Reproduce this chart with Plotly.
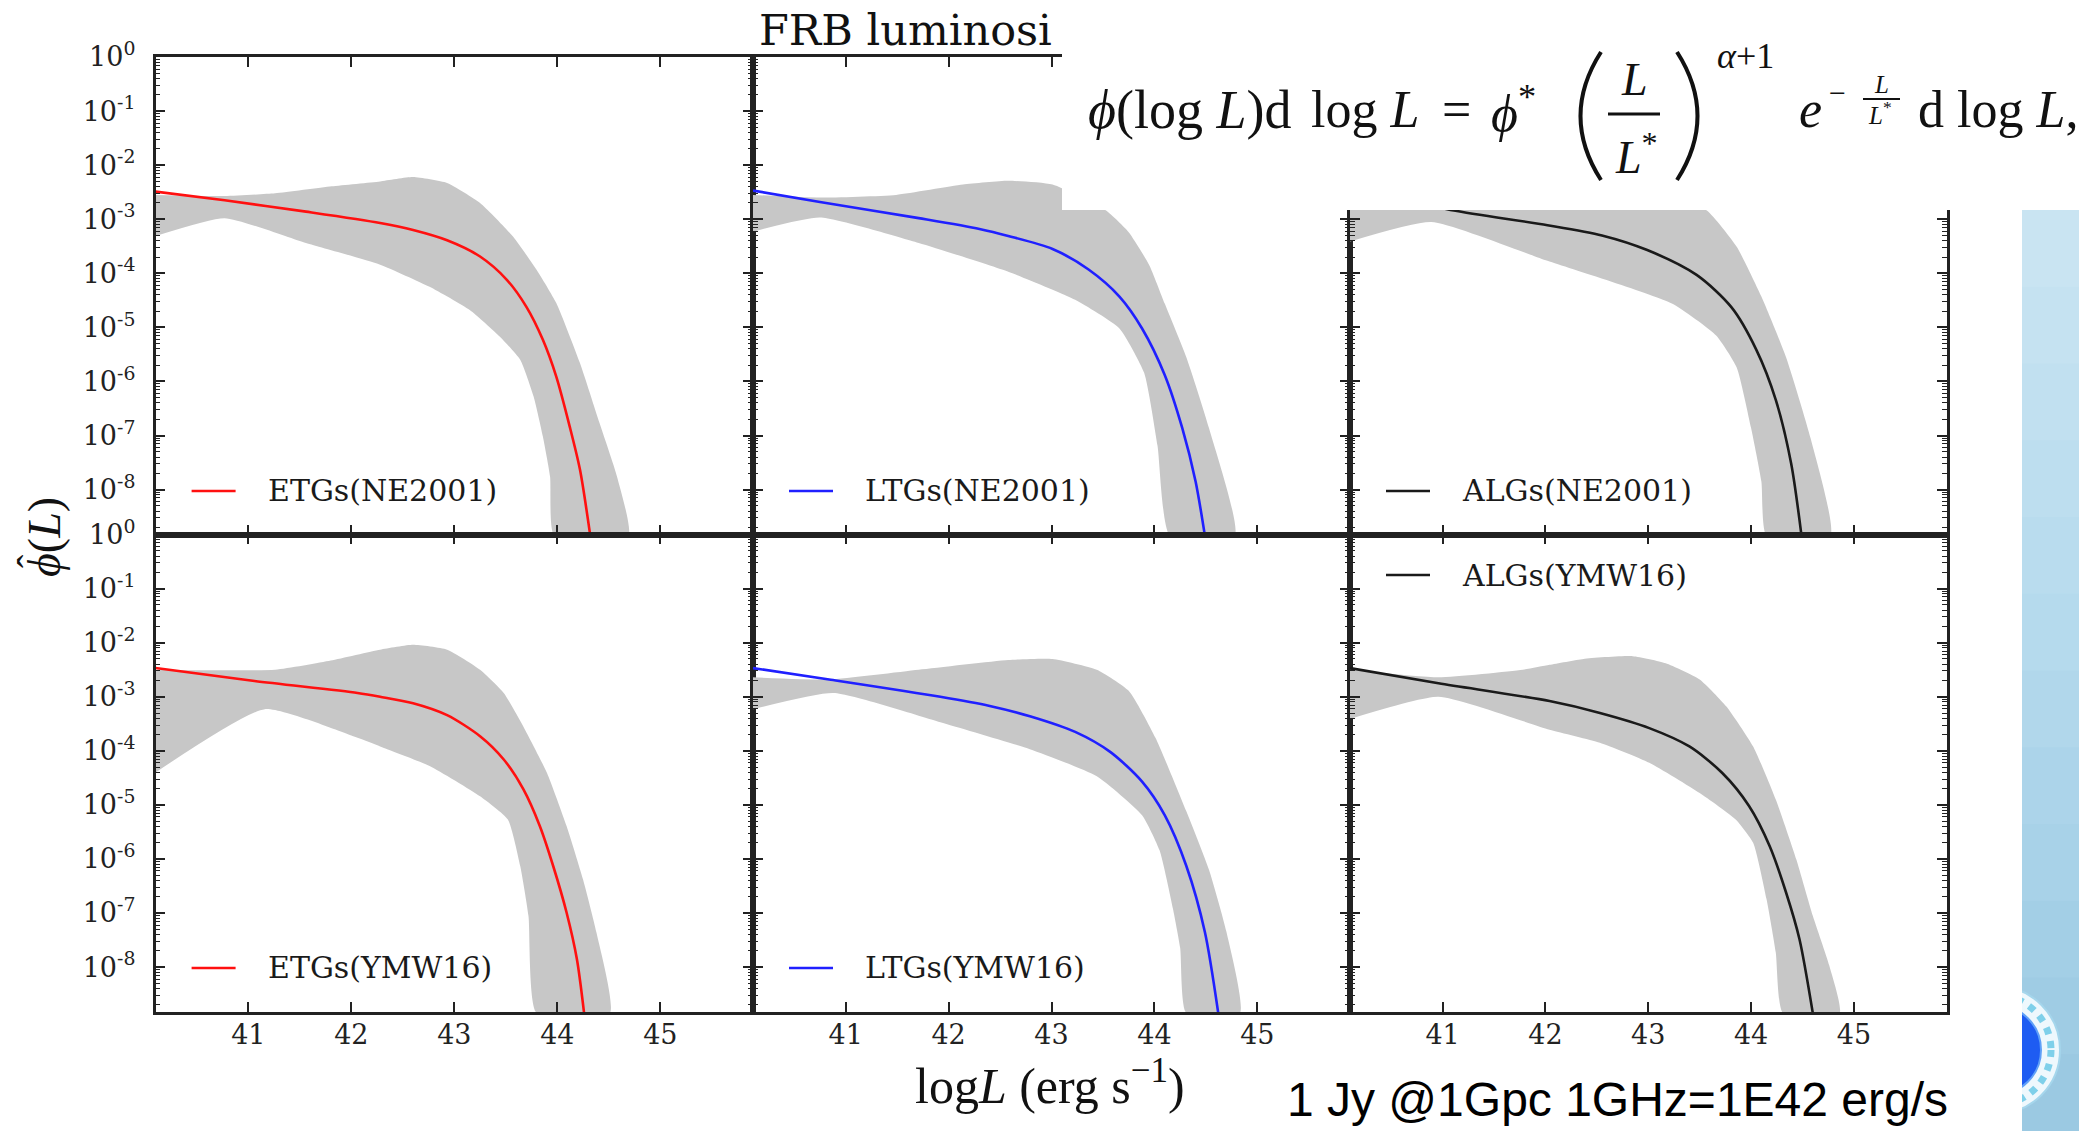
import plotly.graph_objects as go

W, H = 2079, 1131

# ---------------- data (log10 L, log10 phi) ----------------
# Panel 1: ETGs(NE2001)
etg_ne_line_x = [40.1, 40.77, 41.56, 42.28, 42.6, 42.93, 43.25, 43.51, 43.7, 43.86, 43.99, 44.12, 44.22, 44.32]
etg_ne_line_y = [-2.49, -2.65, -2.86, -3.07, -3.2, -3.39, -3.69, -4.12, -4.62, -5.23, -5.91, -6.83, -7.63, -8.85]
etg_ne_up_x = [40.1, 40.77, 41.26, 41.81, 42.28, 42.6, 42.93, 43.25, 43.57, 43.8, 43.99, 44.22, 44.41, 44.58, 44.69]
etg_ne_up_y = [-2.55, -2.57, -2.52, -2.39, -2.3, -2.22, -2.33, -2.7, -3.32, -3.94, -4.55, -5.66, -6.77, -7.76, -8.85]
etg_ne_lo_x = [40.1, 40.77, 41.56, 42.28, 42.76, 43.15, 43.44, 43.64, 43.77, 43.86, 43.93, 43.97]
etg_ne_lo_y = [-3.31, -2.98, -3.44, -3.84, -4.25, -4.68, -5.17, -5.6, -6.28, -7.02, -7.76, -8.85]

# Panel 2: LTGs(NE2001)
ltg_ne_line_x = [40.1, 40.75, 41.71, 42.3, 42.58, 43.01, 43.36, 43.66, 43.88, 44.1, 44.27, 44.4, 44.49]
ltg_ne_line_y = [-2.47, -2.68, -2.98, -3.18, -3.31, -3.55, -3.93, -4.43, -5.02, -5.88, -6.86, -7.85, -8.85]
ltg_ne_up_x = [40.1, 40.75, 41.49, 42.14, 42.58, 43.01, 43.53, 43.75, 43.95, 44.1, 44.31, 44.53, 44.78]
ltg_ne_up_y = [-2.55, -2.6, -2.55, -2.36, -2.29, -2.36, -2.84, -3.24, -3.85, -4.56, -5.55, -6.86, -8.85]
ltg_ne_lo_x = [40.1, 40.75, 41.71, 42.58, 43.23, 43.66, 43.9, 44.03, 44.15]
ltg_ne_lo_y = [-3.23, -2.97, -3.44, -3.97, -4.49, -5.02, -5.84, -7.19, -8.85]

# Panel 3: ALGs(NE2001)
alg_ne_line_x = [40.1, 40.75, 41.11, 42.02, 42.55, 42.99, 43.47, 43.81, 44.05, 44.24, 44.39, 44.49]
alg_ne_line_y = [-2.49, -2.68, -2.84, -3.11, -3.3, -3.57, -4.03, -4.63, -5.41, -6.34, -7.52, -8.85]
alg_ne_up_x = [40.1, 40.77, 41.3, 41.8, 42.35, 42.65, 42.9, 43.2, 43.57, 43.86, 44.1, 44.34, 44.58, 44.77]
alg_ne_up_y = [-2.55, -2.57, -2.52, -2.39, -2.26, -2.22, -2.3, -2.55, -2.84, -3.51, -4.43, -5.55, -7.06, -8.85]
alg_ne_lo_x = [40.1, 40.89, 42.02, 43.23, 43.66, 43.86, 44.0, 44.1, 44.15]
alg_ne_lo_y = [-3.41, -3.05, -3.77, -4.56, -5.15, -5.74, -6.86, -7.85, -8.85]

# Panel 4: ETGs(YMW16)
etg_ym_line_x = [40.1, 41.06, 42.06, 42.28, 42.6, 42.93, 43.25, 43.48, 43.67, 43.83, 43.96, 44.09, 44.19, 44.26]
etg_ym_line_y = [-2.47, -2.71, -2.93, -3.0, -3.12, -3.34, -3.73, -4.16, -4.71, -5.39, -6.13, -6.99, -7.85, -8.85]
etg_ym_up_x = [40.1, 41.26, 41.8, 42.28, 42.6, 42.93, 43.25, 43.48, 43.67, 43.9, 44.09, 44.25, 44.38, 44.51]
etg_ym_up_y = [-2.5, -2.5, -2.33, -2.13, -2.04, -2.13, -2.5, -2.93, -3.55, -4.41, -5.39, -6.38, -7.36, -8.85]
etg_ym_lo_x = [40.1, 41.16, 42.06, 42.28, 42.76, 43.25, 43.52, 43.64, 43.72, 43.8]
etg_ym_lo_y = [-4.4, -3.23, -3.76, -3.92, -4.28, -4.84, -5.27, -6.13, -7.05, -8.85]

# Panel 5: LTGs(YMW16)
ltg_ym_line_x = [40.1, 40.84, 41.92, 42.4, 42.79, 43.23, 43.57, 43.88, 44.1, 44.31, 44.49, 44.62]
ltg_ym_line_y = [-2.47, -2.68, -3.0, -3.17, -3.36, -3.65, -4.02, -4.57, -5.19, -6.13, -7.35, -8.85]
ltg_ym_up_x = [40.1, 40.84, 41.71, 42.58, 43.01, 43.44, 43.75, 44.01, 44.31, 44.53, 44.7, 44.83]
ltg_ym_up_y = [-2.64, -2.68, -2.5, -2.32, -2.3, -2.5, -2.89, -3.76, -5.12, -6.2, -7.35, -8.85]
ltg_ym_lo_x = [40.1, 40.88, 41.92, 42.79, 43.44, 43.88, 44.05, 44.18, 44.25, 44.31]
ltg_ym_lo_y = [-3.23, -2.93, -3.47, -3.97, -4.47, -5.19, -5.84, -6.92, -7.64, -8.85]

# Panel 6: ALGs(YMW16)
alg_ym_line_x = [40.1, 40.96, 42.04, 42.53, 43.01, 43.4, 43.72, 43.98, 44.18, 44.34, 44.47, 44.6]
alg_ym_line_y = [-2.47, -2.75, -3.08, -3.3, -3.58, -3.92, -4.41, -5.02, -5.76, -6.62, -7.48, -8.85]
alg_ym_up_x = [40.1, 40.96, 41.78, 42.04, 42.37, 42.85, 43.17, 43.5, 43.76, 44.02, 44.24, 44.44, 44.6, 44.76, 44.86]
alg_ym_up_y = [-2.5, -2.64, -2.5, -2.41, -2.3, -2.25, -2.38, -2.68, -3.18, -3.92, -4.9, -6.01, -7.05, -7.97, -8.85]
alg_ym_lo_x = [40.1, 40.96, 42.04, 42.53, 43.01, 43.5, 43.85, 44.02, 44.15, 44.24, 44.31]
alg_ym_lo_y = [-3.41, -3.0, -3.61, -3.85, -4.22, -4.78, -5.27, -5.7, -6.74, -7.73, -8.85]

panel_labels = ["ETGs(NE2001)", "LTGs(NE2001)", "ALGs(NE2001)",
                "ETGs(YMW16)", "LTGs(YMW16)", "ALGs(YMW16)"]
line_colors = ["#ff1010", "#2020ff", "#1a1a1a", "#ff1010", "#2020ff", "#1a1a1a"]
x_ticks = [41, 42, 43, 44, 45]
y_tick_exps = [0, -1, -2, -3, -4, -5, -6, -7, -8]

panels = [
    (etg_ne_line_x, etg_ne_line_y, etg_ne_up_x, etg_ne_up_y, etg_ne_lo_x, etg_ne_lo_y),
    (ltg_ne_line_x, ltg_ne_line_y, ltg_ne_up_x, ltg_ne_up_y, ltg_ne_lo_x, ltg_ne_lo_y),
    (alg_ne_line_x, alg_ne_line_y, alg_ne_up_x, alg_ne_up_y, alg_ne_lo_x, alg_ne_lo_y),
    (etg_ym_line_x, etg_ym_line_y, etg_ym_up_x, etg_ym_up_y, etg_ym_lo_x, etg_ym_lo_y),
    (ltg_ym_line_x, ltg_ym_line_y, ltg_ym_up_x, ltg_ym_up_y, ltg_ym_lo_x, ltg_ym_lo_y),
    (alg_ym_line_x, alg_ym_line_y, alg_ym_up_x, alg_ym_up_y, alg_ym_lo_x, alg_ym_lo_y),
]

# ---------------- layout geometry (pixels) ----------------
COL_L = [155.6, 753.0, 1350.0]
COL_R = [753.0, 1350.0, 1946.5]
ROW_T = [57.0, 534.5]
ROW_B = [534.5, 1012.0]

def px(x):
    return x / W

def py(y):
    return 1 - y / H

SERIF = "DejaVu Serif"
TEX = "Liberation Serif"

fig = go.Figure()
layout = dict(
    width=W, height=H, margin=dict(l=0, r=0, t=0, b=0),
    paper_bgcolor="white", plot_bgcolor="rgba(0,0,0,0)", showlegend=False,
)

minor_vals = [m * 10.0 ** (-k) for k in range(1, 10) for m in range(2, 10)]

for i, (lx, ly, ux, uy, ox, oy) in enumerate(panels):
    n = i + 1
    row, col = i // 3, i % 3
    xa = "x" if n == 1 else f"x{n}"
    ya = "y" if n == 1 else f"y{n}"
    band_x = list(ux) + list(ox)[::-1]
    band_y = [10 ** v for v in list(uy) + list(oy)[::-1]]
    fig.add_trace(go.Scatter(x=band_x, y=band_y, xaxis=xa, yaxis=ya, mode="lines",
                             fill="toself", fillcolor="#c7c7c7",
                             line=dict(width=0, color="#c7c7c7", shape="spline", smoothing=0.5),
                             hoverinfo="skip"))
    fig.add_trace(go.Scatter(x=lx, y=[10 ** v for v in ly], xaxis=xa, yaxis=ya, mode="lines",
                             line=dict(color=line_colors[i], width=2.6, shape="spline", smoothing=0.8),
                             name=panel_labels[i]))
    key = "" if n == 1 else str(n)
    layout["xaxis" + key] = dict(
        domain=[px(COL_L[col]), px(COL_R[col])], anchor=ya, range=[40.1, 45.9],
        tickmode="array", tickvals=x_ticks, ticktext=[str(t) for t in x_ticks],
        ticks="inside", ticklen=10, tickwidth=1.6, tickcolor="#222",
        showline=True, linecolor="#222", linewidth=2.5, mirror="ticks",
        showgrid=False, zeroline=False, showticklabels=(row == 1),
        tickfont=dict(family=SERIF, size=27, color="#222"), ticklabelstandoff=-3,
        automargin=False,
    )
    layout["yaxis" + key] = dict(
        domain=[py(ROW_B[row]), py(ROW_T[row])], anchor=xa, type="log", range=[-8.83, 0],
        tickmode="array", tickvals=[10.0 ** e for e in y_tick_exps],
        ticktext=[f"10<sup>{e}</sup>" for e in y_tick_exps],
        ticks="inside", ticklen=10, tickwidth=1.6, tickcolor="#222",
        minor=dict(tickmode="array", tickvals=minor_vals, ticks="inside", ticklen=5,
                   tickwidth=1.2, tickcolor="#222", showgrid=False),
        showline=True, linecolor="#222", linewidth=2.5, mirror="ticks",
        showgrid=False, zeroline=False, showticklabels=(col == 0),
        tickfont=dict(family=SERIF, size=27, color="#222"), ticklabelstandoff=12,
        automargin=False,
    )

shapes = []
annotations = []

# --- slide background strip on the right (with simple vertical gradient) ---
strip_cols = ["#c9e4f2", "#c5e2f1", "#c1e0f0", "#bddeef", "#b9dcee", "#b5daed",
              "#b1d7eb", "#acd4ea", "#a8d2e8", "#a3cfe6", "#9fcce4", "#9bc9e2"]
y0s = 210.0
step = (H - y0s) / len(strip_cols)
for k, c in enumerate(strip_cols):
    shapes.append(dict(type="rect", xref="paper", yref="paper", layer="below",
                       x0=px(2022), x1=1.0, y0=py(y0s + (k + 1) * step + 1), y1=py(y0s + k * step),
                       fillcolor=c, line=dict(width=0)))
# partial logo
cx, cy = 1996, 1050
for r, fc, lc, lw, dash in [(64, "#eef8fd", "#a5d6ec", 2, "solid"),
                            (55, "rgba(0,0,0,0)", "#7fd0ea", 7, "dot"),
                            (45, "#1e5cf2", "#5fa0f8", 2, "solid")]:
    shapes.append(dict(type="circle", xref="paper", yref="paper", layer="below",
                       x0=px(cx - r), x1=px(cx + r), y0=py(cy + r), y1=py(cy - r),
                       fillcolor=fc, line=dict(color=lc, width=lw, dash=dash)))
shapes.append(dict(type="rect", xref="paper", yref="paper", layer="below",
                   x0=px(1920), x1=px(2022), y0=py(1125), y1=py(975),
                   fillcolor="white", line=dict(width=0)))

# --- pasted formula box (covers top right of the figure) ---
shapes.append(dict(type="rect", xref="paper", yref="paper", layer="above",
                   x0=px(1062), x1=1.0, y0=py(210), y1=1.0,
                   fillcolor="white", line=dict(width=0)))

def ann(text, x, y, size, family, xanchor="left", yanchor="middle", color="#111", angle=0):
    annotations.append(dict(text=text, x=px(x), y=py(y), xref="paper", yref="paper",
                            showarrow=False, xanchor=xanchor, yanchor=yanchor, textangle=angle,
                            font=dict(family=family, size=size, color=color)))

def seg(x0, y0, x1, y1, color, width):
    shapes.append(dict(type="line", xref="paper", yref="paper", layer="above",
                       x0=px(x0), y0=py(y0), x1=px(x1), y1=py(y1),
                       line=dict(color=color, width=width)))

def curve(xa, ya, xc, yc, xb, yb, width):
    path = f"M {px(xa)},{py(ya)} Q {px(xc)},{py(yc)} {px(xb)},{py(yb)}"
    shapes.append(dict(type="path", xref="paper", yref="paper", layer="above",
                       path=path, line=dict(color="#111", width=width)))

# formula
ann("<i>ϕ</i>(log <i>L</i>)d", 1086, 110, 54, TEX)
ann("log <i>L</i>", 1309, 110, 52, TEX)
ann("=", 1440, 110, 52, TEX)
ann("<i>ϕ</i><sup>*</sup>", 1489, 110, 52, TEX)
curve(1601, 52, 1560, 116, 1601, 180, 4)
curve(1677, 52, 1718, 116, 1677, 180, 4)
ann("<i>L</i>", 1634, 80, 46, TEX, xanchor="center")
seg(1608, 114, 1660, 114, "#111", 3)
ann("<i>L</i><sup>*</sup>", 1613, 154, 46, TEX)
ann("<i>α</i>+1", 1715, 56, 36, TEX)
ann("<i>e</i>", 1797, 110, 52, TEX)
ann("−", 1827, 92, 30, TEX)
ann("<i>L</i>", 1881, 84, 25, TEX, xanchor="center")
seg(1863, 99, 1900, 99, "#111", 2)
ann("<i>L</i><sup>*</sup>", 1866, 113, 25, TEX)
ann("d log <i>L</i>,", 1916, 110, 52, TEX)

# title fragment (rest hidden under the pasted formula)
ann("FRB luminosi", 757, 30, 43, SERIF)

# legends inside each panel
leg_y = [491, 491, 491, 968, 968, 575]
for i in range(6):
    col = i % 3
    x0 = COL_L[col]
    seg(x0 + 36, leg_y[i], x0 + 80, leg_y[i], line_colors[i], 2.6)
    ann(panel_labels[i], x0 + 110, leg_y[i], 30, SERIF, color="#1a1a1a")

# axis titles
ann("log<i>L</i> (erg s<sup>−1</sup>)", 1050, 1082, 50, TEX, xanchor="center")
ann("<i>ϕ</i>(<i>L</i>)", 44, 537, 46, TEX, xanchor="center", angle=-90)
ann("ˆ", 31, 561, 40, TEX, xanchor="center", angle=-90)

# slide note
ann("1 Jy @1Gpc 1GHz=1E42 erg/s", 1285, 1099, 48, "Liberation Sans", color="#000")

layout["shapes"] = shapes
layout["annotations"] = annotations
fig.update_layout(**layout)
fig.write_html("out.html")
